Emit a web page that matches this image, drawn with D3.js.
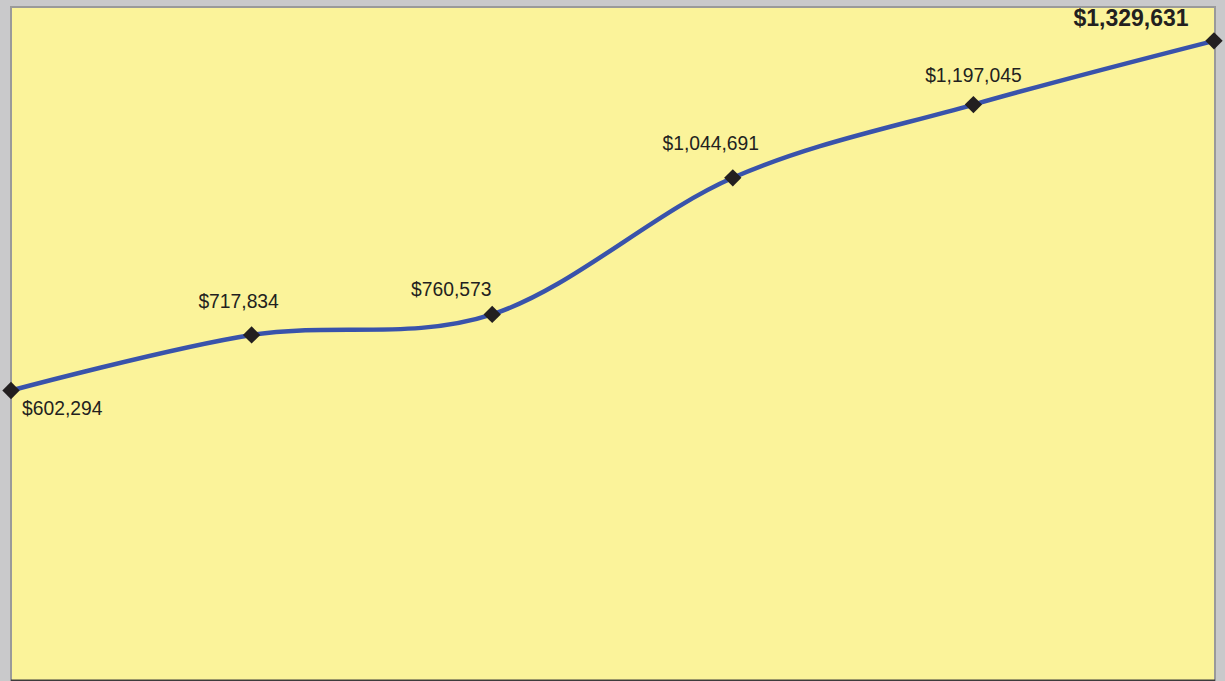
<!DOCTYPE html>
<html>
<head>
<meta charset="utf-8">
<script src="https://cdn.jsdelivr.net/npm/d3@7"></script>
<style>
  html, body { margin: 0; padding: 0; background: #c9c9cb; }
  svg { display: block; }
</style>
</head>
<body>
<svg id="chart"></svg>
<script>
// chart data
const periods = ["1", "2", "3", "4", "5", "6"];
const values = [602294, 717834, 760573, 1044691, 1197045, 1329631];
const valueLabels = ["$602,294", "$717,834", "$760,573", "$1,044,691", "$1,197,045", "$1,329,631"];

// label placement relative to each point (dx, dy, anchor)
const labelPlace = [
    {dx: 11, dy: 25, anchor: 'start'},
    {dx: -13, dy: -27, anchor: 'middle'},
    {dx: -41, dy: -18, anchor: 'middle'},
    {dx: -22, dy: -28, anchor: 'middle'},
    {dx: 0, dy: -23, anchor: 'middle'},
    {dx: -83, dy: -15, anchor: 'middle'}
];

const width = 1225, height = 681;
const plot = {left: 11, right: 1215, top: 7, bottom: 680};

let svg = d3.select('#chart')
    .attr('width', width)
    .attr('height', height);

// plot area
svg.append('rect')
    .attr('x', plot.left)
    .attr('y', plot.top)
    .attr('width', plot.right - plot.left)
    .attr('height', plot.bottom - plot.top + 10)
    .attr('fill', '#fbf39a')
    .attr('stroke', '#9a9a9a')
    .attr('stroke-width', 2);

let xScale = d3.scalePoint()
    .domain(periods)
    .range([plot.left, plot.right - 1]);

let yScale = d3.scaleLinear()
    .domain([0, 1400000])
    .range([plot.bottom, plot.top]);

// bottom axis line
svg.append('g')
    .attr('transform', `translate(0,${plot.bottom + 0.5})`)
    .call(d3.axisBottom(xScale).tickSize(0).tickFormat(''))
    .call(g => g.select('.domain')
        .attr('d', `M${plot.left},0H${plot.right}`)
        .attr('stroke', '#3c3c3c')
        .attr('stroke-width', 2));

let points = periods.map((p, i) => ({period: p, value: values[i], label: valueLabels[i], place: labelPlace[i]}));

let line = d3.line()
    .x(d => xScale(d.period))
    .y(d => yScale(d.value))
    .curve(d3.curveCatmullRom.alpha(0));

svg.append('path')
    .datum(points)
    .attr('fill', 'none')
    .attr('stroke', '#3953ab')
    .attr('stroke-width', 4.5)
    .attr('d', line);

svg.selectAll('.marker')
    .data(points)
    .join('path')
    .attr('class', 'marker')
    .attr('d', d3.symbol().type(d3.symbolSquare).size(150))
    .attr('fill', '#231f20')
    .attr('transform', d => `translate(${xScale(d.period)},${yScale(d.value)}) rotate(45)`);

svg.selectAll('.value-label')
    .data(points)
    .join('text')
    .attr('class', 'value-label')
    .attr('x', d => xScale(d.period) + d.place.dx)
    .attr('y', d => yScale(d.value) + d.place.dy)
    .attr('text-anchor', d => d.place.anchor)
    .attr('font-family', 'Liberation Sans, Arial, sans-serif')
    .attr('font-size', (d, i) => i === points.length - 1 ? 23 : 19.3)
    .attr('font-weight', (d, i) => i === points.length - 1 ? 700 : 400)
    .attr('fill', '#231f20')
    .text(d => d.label);
</script>
</body>
</html>
